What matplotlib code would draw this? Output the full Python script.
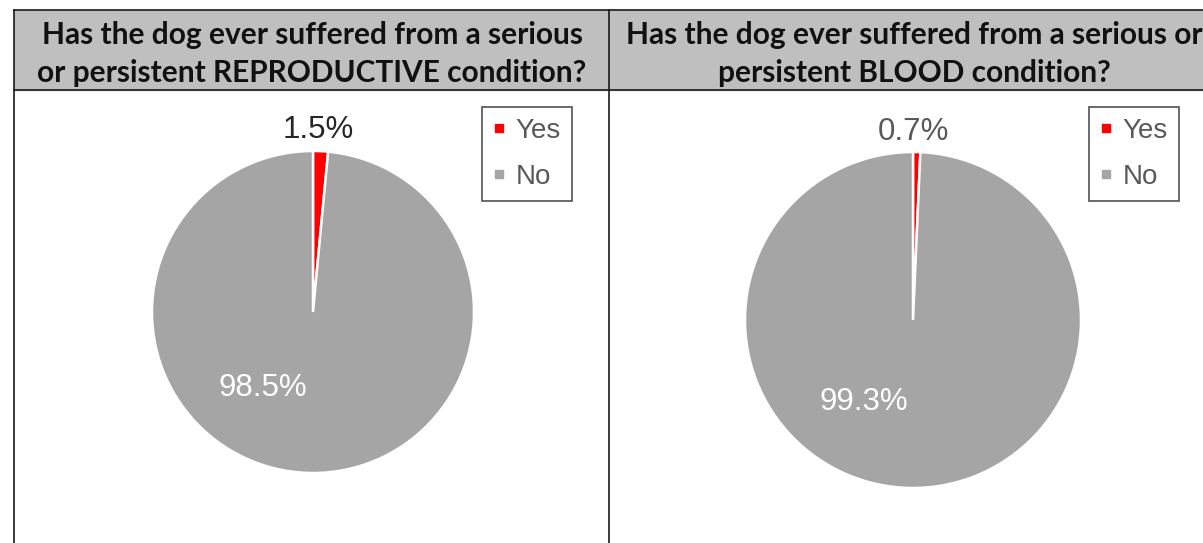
import matplotlib.pyplot as plt
from matplotlib.lines import Line2D

labels = ['Yes', 'No']
colors = ['#FF0000', '#A5A5A5']

repro_pct = [1.5, 98.5]
blood_pct = [0.7, 99.3]

titles = [
    'Has the dog ever suffered from a serious\nor persistent REPRODUCTIVE condition?',
    'Has the dog ever suffered from a serious or\npersistent BLOOD condition?',
]

W, H = 1203, 543
fig = plt.figure(figsize=(W / 100, H / 100), dpi=100)

# background axes in pixel units for the table grid
bg = fig.add_axes([0, 0, 1, 1])
bg.set_xlim(0, W)
bg.set_ylim(H, 0)
bg.axis('off')

bg.fill_between([14, W + 5], 10, 90, color='#BFBFBF', zorder=0)
lc = '#1a1a1a'
bg.plot([14, W + 5], [10, 10], color=lc, lw=1.2)
bg.plot([14, W + 5], [90, 90], color=lc, lw=1.2)
bg.plot([14, 14], [10, H + 5], color=lc, lw=1.2)
bg.plot([609, 609], [10, H + 5], color=lc, lw=1.2)

head_x = [312, 914]
for x, t in zip(head_x, titles):
    bg.text(x, 54, t, ha='center', va='center', fontsize=21.5,
            fontweight='bold', family='Lato', color='#111111',
            linespacing=1.42)

# pie centres and radii in pixels
pies = [
    dict(vals=repro_pct, cx=313, cy=312, r=161, top=(0.03, 1.13),
         inner=(-0.31, -0.47), top_col='#262626', leg=(482, 107)),
    dict(vals=blood_pct, cx=913, cy=320, r=168, top=(0.0, 1.12),
         inner=(-0.29, -0.49), top_col='#595959', leg=(1089, 107)),
]

for p in pies:
    r = p['r']
    ax = fig.add_axes([(p['cx'] - r) / W, (H - p['cy'] - r) / H,
                       2 * r / W, 2 * r / H])
    ax.pie(p['vals'], colors=colors, startangle=90, counterclock=False,
           radius=1, wedgeprops=dict(edgecolor='white', linewidth=1.8))
    ax.set_xlim(-1, 1)
    ax.set_ylim(-1, 1)
    ax.set_aspect('equal')
    ax.axis('off')
    ax.text(p['top'][0], p['top'][1], f"{p['vals'][0]}%", ha='center',
            va='center', fontsize=22.5, family='Liberation Sans',
            color=p['top_col'], clip_on=False)
    ax.text(p['inner'][0], p['inner'][1], f"{p['vals'][1]}%", ha='center',
            va='center', fontsize=22.5, family='Liberation Sans', color='white')

    handles = [Line2D([], [], marker='s', ls='', markersize=5.5, color=c)
               for c in colors]
    lx, ly = p['leg']
    leg = fig.legend(handles, labels, loc='upper left',
                     bbox_to_anchor=(lx / W, 1 - ly / H),
                     prop=dict(family='Liberation Sans', size=20),
                     labelcolor='#595959', frameon=True, fancybox=False,
                     edgecolor='#262626', handlelength=0.45, handletextpad=0.35,
                     labelspacing=0.7, borderpad=0.4, borderaxespad=0)
    leg.get_frame().set_linewidth(1.2)

fig.savefig('out.png', dpi=100)
